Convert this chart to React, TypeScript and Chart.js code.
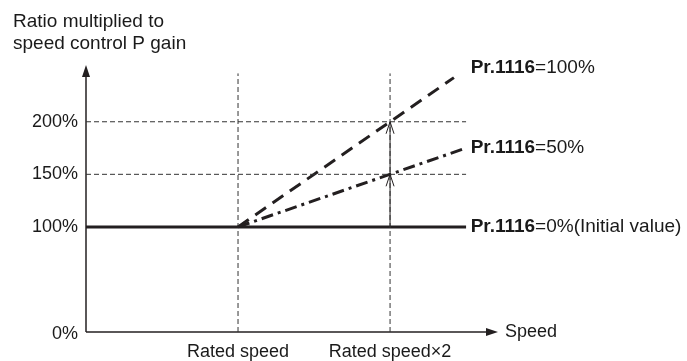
import React, { useEffect, useRef } from "react";
import { Chart, registerables } from "chart.js";

Chart.register(...registerables);

// Data (x in units of rated speed, y in % of speed control P gain)
const lineEndX = 2.5;
const axisMaxX = 2.71;
const axisMaxY = 254;
const gain0X = [0, 2.5];
const gain0Y = [100, 100];
const gain100X = [1, 2.42];
const gain100Y = [100, 242];
const gain50X = [1, 2.5];
const gain50Y = [100, 175];
const yTickValues = [0, 100, 150, 200];
const yTickLabels = ["0%", "100%", "150%", "200%"];
const xTickValues = [1, 2];
const xTickLabels = ["Rated speed", "Rated speed×2"];
const guideTopY = 246;
const arrowFromY = 100;
const arrowToY = [150, 200];
const seriesLabelBold = ["Pr.1116", "Pr.1116", "Pr.1116"];
const seriesLabelRest = ["=100%", "=50%", "=0%(Initial value)"];
const seriesLabelX = [2.53, 2.53, 2.53];
const seriesLabelY = [251, 175, 100];

const FONT = '"Liberation Sans", Arial, Helvetica, sans-serif';
const INK = "#231f20";

const pts = (xs: number[], ys: number[]) => xs.map((x, i) => ({ x, y: ys[i] }));

const overlay = {
  id: "overlay",
  afterDatasetsDraw(chart: any) {
    const ctx = chart.ctx as CanvasRenderingContext2D;
    const xs = chart.scales.x;
    const ys = chart.scales.y;
    const px = (v: number) => xs.getPixelForValue(v);
    const py = (v: number) => ys.getPixelForValue(v);
    ctx.save();
    ctx.fillStyle = INK;
    ctx.strokeStyle = INK;

    // axis arrowheads (filled)
    const ox = px(0), oy = py(0);
    const ty = py(axisMaxY), rx = px(axisMaxX);
    ctx.beginPath();
    ctx.moveTo(ox, ty);
    ctx.lineTo(ox - 4, ty + 12);
    ctx.lineTo(ox + 4, ty + 12);
    ctx.closePath();
    ctx.fill();
    ctx.beginPath();
    ctx.moveTo(rx, oy);
    ctx.lineTo(rx - 12, oy - 4);
    ctx.lineTo(rx - 12, oy + 4);
    ctx.closePath();
    ctx.fill();

    // open arrowheads on the vertical arrow
    ctx.lineWidth = 1;
    ctx.setLineDash([]);
    const ax = px(2);
    arrowToY.forEach((v) => {
      const ay = py(v);
      ctx.beginPath();
      ctx.moveTo(ax - 4, ay + 12);
      ctx.lineTo(ax, ay);
      ctx.lineTo(ax + 4, ay + 12);
      ctx.stroke();
    });

    // arrowhead at start of the 50% line pointing to (1,100)
    const sx = px(gain50X[0]), sy = py(gain50Y[0]);
    const ex = px(gain50X[1]), ey = py(gain50Y[1]);
    const ang = Math.atan2(sy - ey, sx - ex);
    const L = 12, W = 0.3;
    ctx.lineWidth = 1.5;
    ctx.beginPath();
    ctx.moveTo(sx - L * Math.cos(ang - W), sy - L * Math.sin(ang - W));
    ctx.lineTo(sx, sy);
    ctx.lineTo(sx - L * Math.cos(ang + W), sy - L * Math.sin(ang + W));
    ctx.stroke();

    // texts
    ctx.fillStyle = "#1a1a1a";
    ctx.font = `19px ${FONT}`;
    ctx.textAlign = "left";
    ctx.textBaseline = "alphabetic";
    ctx.fillText("Ratio multiplied to", 13, 27);
    ctx.fillText("speed control P gain", 13, 49);

    ctx.font = `18px ${FONT}`;
    ctx.textAlign = "right";
    ctx.textBaseline = "middle";
    yTickValues.forEach((v, i) => {
      ctx.fillText(yTickLabels[i], ox - 8, py(v) + (v === 0 ? 2 : 0));
    });

    ctx.textAlign = "center";
    xTickValues.forEach((v, i) => {
      ctx.fillText(xTickLabels[i], px(v), oy + 20);
    });

    ctx.textAlign = "left";
    ctx.fillText("Speed", rx + 7, oy);

    seriesLabelBold.forEach((b, i) => {
      const x0 = px(seriesLabelX[i]);
      const y0 = py(seriesLabelY[i]);
      ctx.font = `bold 19px ${FONT}`;
      ctx.fillText(b, x0, y0);
      const w = ctx.measureText(b).width;
      ctx.font = `19px ${FONT}`;
      ctx.fillText(seriesLabelRest[i], x0 + w, y0);
    });
    ctx.restore();
  },
};

export default function App() {
  const ref = useRef<HTMLCanvasElement>(null);
  useEffect(() => {
    if (!ref.current) return;
    const guide = { borderColor: "#333", borderWidth: 1, borderDash: [5, 3], pointRadius: 0, clip: false as any };
    const chart = new Chart(ref.current, {
      type: "line",
      data: {
        datasets: [
          { ...guide, data: pts([0, lineEndX], [150, 150]) },
          { ...guide, data: pts([0, lineEndX], [200, 200]) },
          { ...guide, data: pts([1, 1], [0, guideTopY]) },
          { ...guide, data: pts([2, 2], [0, guideTopY]) },
          { borderColor: INK, borderWidth: 1, pointRadius: 0, data: pts([2, 2], [arrowFromY, arrowToY[1]]) },
          { borderColor: INK, borderWidth: 1.5, pointRadius: 0, clip: false as any, data: pts([0, 0], [0, axisMaxY - 5]) },
          { borderColor: INK, borderWidth: 1.5, pointRadius: 0, clip: false as any, data: pts([0, axisMaxX - 0.04], [0, 0]) },
          { borderColor: INK, borderWidth: 3, borderDash: [13, 8], pointRadius: 0, data: pts(gain100X, gain100Y) },
          { borderColor: INK, borderWidth: 3, borderDash: [12, 5, 3, 5], pointRadius: 0, data: pts(gain50X, gain50Y) },
          { borderColor: INK, borderWidth: 3, pointRadius: 0, data: pts(gain0X, gain0Y) },
        ],
      },
      options: {
        responsive: false,
        animation: false,
        layout: { padding: { left: 86, right: 189, top: 65, bottom: 29 } },
        scales: {
          x: { type: "linear", min: 0, max: axisMaxX, display: false },
          y: { type: "linear", min: 0, max: axisMaxY, display: false },
        },
        plugins: { legend: { display: false }, tooltip: { enabled: false } },
        elements: { line: { tension: 0 } },
      },
      plugins: [overlay],
    });
    return () => chart.destroy();
  }, []);
  return (
    <div style={{ position: "fixed", left: 0, top: 0, width: 687, height: 361, background: "#fff" }}>
      <canvas ref={ref} width={687} height={361} style={{ display: "block" }} />
    </div>
  );
}
